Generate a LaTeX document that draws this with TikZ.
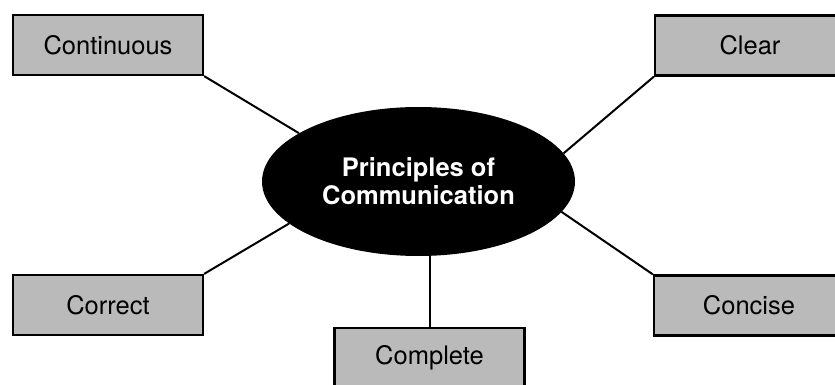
\documentclass[tikz,border=0pt]{standalone}
\usepackage{fontspec}
\setmainfont{TeX Gyre Heros}
\usetikzlibrary{shapes.geometric}
\tikzset{
  topic/.style={ % grey box holding one principle
    draw, rectangle, line width=2.2pt,
    fill=black!27, text=black,
    minimum width=190pt, minimum height=60pt,
    inner sep=0pt, font=\fontsize{25.5pt}{30pt}\selectfont
  },
  hub/.style={  % black ellipse in the middle
    ellipse, fill=black, text=white,
    minimum width=313pt, minimum height=149pt,
    inner sep=0pt, align=center,
    font=\bfseries\fontsize{25.5pt}{28pt}\selectfont
  },
  spoke/.style={
    draw, line width=2pt
  }
}
\begin{document}
\begin{tikzpicture}[x=1pt,y=-1pt]
      \useasboundingbox (0,0) rectangle (835,385);

      \node[hub] (ell) at (418.5,181.5) {Principles of\\Communication};

      \node[topic] (cont)  at (108,45)    {Continuous};
      \node[topic] (clear) at (750,45.5)  {Clear};
      \node[topic] (corr)  at (108,305)   {Correct};
      \node[topic] (conc)  at (749,305.5) {Concise};
      \node[topic] (comp)  at (429.5,358) {Complete};

      \path[spoke] (cont.south east) -- (ell.158);
      \path[spoke] (clear.south west) -- (ell.11);
      \path[spoke] (corr.north east) -- (ell.198);
      \path[spoke] (conc.north west) -- (ell.348);
      \path[spoke] (comp.north) -- (comp.north |- ell.south);
    \end{tikzpicture}
\end{document}
